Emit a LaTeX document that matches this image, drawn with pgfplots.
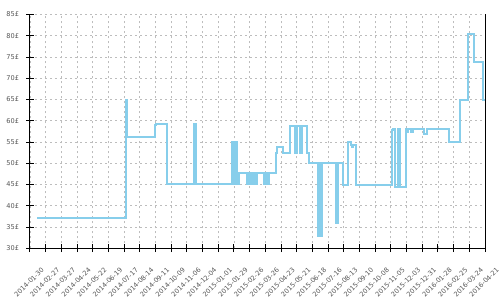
\documentclass[border=0pt]{standalone}
\usepackage{fontspec}
\setmainfont{DejaVu Sans}
\usepackage{pgfplots}
\pgfplotsset{compat=1.18}
\definecolor{linec}{HTML}{87CEEB}
\definecolor{gridc}{HTML}{BDBDBD}
\definecolor{labc}{HTML}{555555}
\begin{document}
\begin{tikzpicture}
\begin{axis}[
  scale only axis, width=455pt, height=233.8pt,
  xmin=0, xmax=812, ymin=30, ymax=85,
  axis x line*=bottom, axis y line*=left,
  axis line style={black, line width=1pt, -},
  xtick={0,28,...,812},
  xticklabels={2014-01-30,2014-02-27,2014-03-27,2014-04-24,2014-05-22,2014-06-19,2014-07-17,2014-08-14,2014-09-11,2014-10-09,2014-11-06,2014-12-04,2015-01-01,2015-01-29,2015-02-26,2015-03-26,2015-04-23,2015-05-21,2015-06-18,2015-07-16,2015-08-13,2015-09-10,2015-10-08,2015-11-05,2015-12-03,2015-12-31,2016-01-28,2016-02-25,2016-03-24,2016-04-21},
  ytick={30,35,...,85},
  yticklabels={30£,35£,40£,45£,50£,55£,60£,65£,70£,75£,80£,85£},
  tick align=center, major tick length=7.6pt,
  tick style={black, line width=1pt},
  grid=major,
  major grid style={gridc, dash pattern=on 2pt off 3pt, line width=0.8pt},
  ticklabel style={font=\fontsize{6.6}{8}\selectfont, text=labc, inner sep=0pt},
  xticklabel style={xshift=12.8pt, yshift=-16.5pt, rotate=45, anchor=east},
  yticklabel style={anchor=east, xshift=-7pt},
  clip=false,
]
\addplot[const plot, color=linec, line width=2pt] coordinates {
(13,37.2) (171,65.0) (173,56.1) (223,58.9) (225,59.2) (245,45.1)
(293,59.2) (297,45.1)
(361,55.1) (362.5,45.1) (363.5,55.1) (365,45.1) (366,54.8) (367.5,45.1) (368.5,55.1) (369.5,47.6) (372,45.1) (373,47.6)
(387,45.1) (391,47.6) (392,45.1) (396,47.6)
(398,45.1) (401,47.6) (402,45.1) (405,47.6)
(418,45.1) (421.5,47.6) (422.5,45.1) (426,47.6)
(438.5,52.3) (440,53.9) (452,52.5) (464,58.8)
(473,52.3) (474.5,58.8) (475.5,52.3) (477,58.8)
(482,52.3) (483.5,58.8) (484.5,52.3) (486,58.8)
(495,52.5) (498,50.0)
(514.5,33.0) (516.5,50.0) (517.5,33.0) (520.5,50.0)
(546,35.9) (550,50.0)
(558,45.0)
(568,54.9) (572,54.4) (574,53.8) (577,54.2) (581,45.0)
(645.5,57.8) (648,58.1) (650.5,44.5)
(657.5,58.1) (660,44.5)
(670.5,58.1) (672,57.4) (675,58.1)
(680,57.4) (683,58.1)
(703,56.9) (708,58.1)
(748,55.1) (767,64.9) (782,80.4) (792,73.9) (808,64.9) (812,64.9)
};
\draw[black, line width=1pt] (rel axis cs:1,0) -- (rel axis cs:1,1);
\coordinate (sw) at (rel axis cs:0,0);
\coordinate (ne) at (rel axis cs:1,1);
\end{axis}
\pgfresetboundingbox
\path ([shift={(-30pt,-51.7pt)}]sw) rectangle ([shift={(15pt,14.5pt)}]ne);
\end{tikzpicture}
\end{document}
